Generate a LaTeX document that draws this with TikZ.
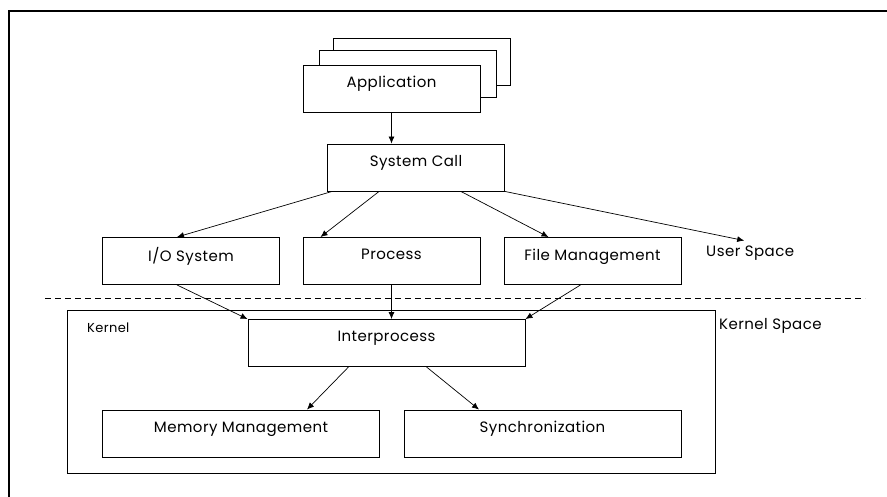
\documentclass[tikz,border=0pt]{standalone}
\usepackage{fontspec}
\setmainfont[LetterSpace=3]{Poppins}
\usetikzlibrary{arrows.meta}

\tikzset{
	box/.style={draw, line width=0.9pt, fill=white, minimum width=177, minimum height=47, text depth=13pt, inner sep=0pt},
	widebox/.style={box, minimum width=277},
	lbl/.style={anchor=west, inner sep=0pt},
	link/.style={line width=0.7pt, -{Latex[length=7pt,width=6pt]}}
}

\begin{document}
\begin{tikzpicture}[x=1pt, y=-1pt, font=\fontsize{15}{18}\selectfont]
		\useasboundingbox (0,0) rectangle (887,496);
		\draw[line width=2pt] (9,510) -- (9,11) -- (900,11);
		% user space
		\node[box] (app3) at (422,61.5) {};
		\node[box] (app2) at (408,73.5) {};
		\node[box] (app) at (391.5,88.5) {Application};
		\node[box] (sc) at (416,167.5) {System Call};
		\node[box] (io) at (191,261) {I/O System};
		\node[box] (proc) at (391.5,261) {Process};
		\node[box] (fm) at (592.5,261) {File Management};
		\node[lbl, inner ysep=5pt] (us) at (706,253) {User Space};
		\draw[dashed, line width=0.7pt, dash pattern=on 6pt off 4pt] (45,298) -- (865,298);
		% kernel space
		\node[draw, line width=0.9pt, minimum width=648, minimum height=163, inner sep=0pt] (kern) at (391,391.5) {};
		\node[lbl, font=\fontsize{13}{15}\selectfont] (kl) at (87,328) {Kernel};
		\node[lbl] (ks) at (719,326) {Kernel Space};
		\node[widebox] (ip) at (386.5,343) {Interprocess};
		\node[widebox] (mem) at (241,433.5) {Memory Management};
		\node[widebox] (sync) at (542.5,433.5) {Synchronization};
		% arrows
		\draw[link] (app) -- (app |- sc.north);
		\draw[link] ([xshift=5]sc.south west) -- ([xshift=-14]io.north);
		\draw[link] ([xshift=52]sc.south west) -- ([xshift=-71]proc.north);
		\draw[link] ([xshift=-44]sc.south east) -- ([xshift=-44]fm.north);
		\draw[link] (sc.south east) -- ([xshift=-6]us.north);
		\draw[link] ([xshift=-14]io.south) -- (ip.north west);
		\draw[link] (proc.south) -- (proc.south |- ip.north);
		\draw[link] ([xshift=-12]fm.south) -- (ip.north east);
		\draw[link] ([xshift=-38]ip.south) -- ([xshift=66]mem.north);
		\draw[link] ([xshift=40]ip.south) -- ([xshift=-63.5]sync.north);
	\end{tikzpicture}
\end{document}
